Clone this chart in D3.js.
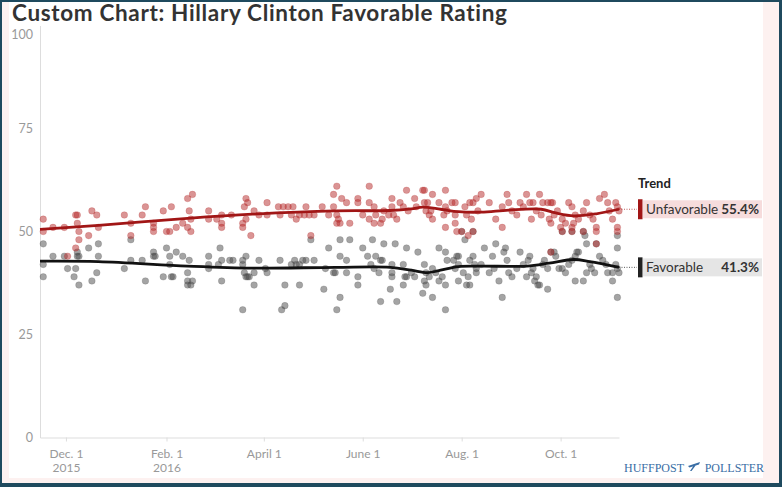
<!DOCTYPE html>
<html>
<head>
<meta charset="utf-8">
<script src="https://cdn.jsdelivr.net/npm/d3@7"></script>
<style>
  body { margin: 0; background: #fff; }
  svg { display: block; font-family: Lato, "Open Sans", sans-serif; }
</style>
</head>
<body>
<div id="chart"></div>
<script>
'use strict';

var parseDate = d3.timeParse('%Y-%m-%d');

var chartTitle = 'Custom Chart: Hillary Clinton Favorable Rating';
var seriesNames = ['Unfavorable', 'Favorable'];
var latestTrend = [55.4, 41.3];
var dateRange = ['2015-11-15', '2016-11-06'];

var yTicks = [0, 25, 50, 75, 100];
var tickDates = ['2015-12-01', '2016-02-01', '2016-04-01', '2016-06-01', '2016-08-01', '2016-10-01'];
var tickLabels = [['Dec. 1', '2015'], ['Feb. 1', '2016'], ['April 1'], ['June 1'], ['Aug. 1'], ['Oct. 1']];

// individual polls
var unfavorablePolls = [
  ['2015-11-17', 53], ['2015-11-17', 50], ['2015-11-23', 51], ['2015-11-30', 51], ['2015-12-02', 44],
  ['2015-12-07', 54], ['2015-12-08', 54], ['2015-12-07', 46], ['2015-12-08', 52], ['2015-12-09', 50],
  ['2015-12-09', 48], ['2015-12-15', 49], ['2015-12-17', 55], ['2015-12-20', 54], ['2015-12-21', 51],
  ['2016-01-06', 54], ['2016-01-10', 52], ['2016-01-10', 49], ['2016-01-17', 54], ['2016-01-19', 56],
  ['2016-01-24', 52], ['2016-01-24', 51], ['2016-01-24', 50], ['2016-01-30', 55], ['2016-02-01', 50],
  ['2016-02-03', 50], ['2016-02-04', 56], ['2016-02-07', 51], ['2016-02-11', 52], ['2016-02-14', 58],
  ['2016-02-14', 51], ['2016-02-17', 59], ['2016-02-15', 55], ['2016-02-16', 53], ['2016-02-16', 50],
  ['2016-02-27', 55], ['2016-02-27', 53], ['2016-03-03', 53], ['2016-03-06', 54], ['2016-03-06', 52],
  ['2016-03-06', 51], ['2016-03-12', 54], ['2016-03-20', 56], ['2016-03-21', 58], ['2016-03-22', 57],
  ['2016-03-19', 52], ['2016-03-19', 51], ['2016-03-21', 53], ['2016-03-26', 55], ['2016-03-29', 54],
  ['2016-03-24', 49], ['2016-04-03', 57], ['2016-04-03', 54], ['2016-04-10', 56], ['2016-04-13', 56],
  ['2016-04-16', 56], ['2016-04-19', 56], ['2016-04-11', 54], ['2016-04-18', 54], ['2016-04-23', 54],
  ['2016-04-21', 53], ['2016-04-27', 56], ['2016-04-26', 54], ['2016-04-29', 54], ['2016-05-02', 54],
  ['2016-04-30', 49], ['2016-05-07', 56], ['2016-05-11', 54], ['2016-05-14', 59], ['2016-05-14', 56],
  ['2016-05-16', 54], ['2016-05-17', 53], ['2016-05-18', 52], ['2016-05-16', 52], ['2016-06-05', 61],
  ['2016-05-16', 61], ['2016-05-19', 58], ['2016-05-22', 57], ['2016-05-24', 52], ['2016-05-29', 58],
  ['2016-05-29', 57], ['2016-06-01', 54], ['2016-06-05', 57], ['2016-06-08', 56], ['2016-06-09', 54],
  ['2016-06-05', 53], ['2016-06-08', 52], ['2016-06-12', 52], ['2016-06-13', 53], ['2016-06-14', 55],
  ['2016-06-17', 54], ['2016-06-19', 56], ['2016-06-19', 58], ['2016-06-20', 54], ['2016-06-22', 53],
  ['2016-06-24', 57], ['2016-06-26', 56], ['2016-06-28', 60], ['2016-06-29', 55], ['2016-07-03', 58],
  ['2016-07-04', 56], ['2016-07-08', 60], ['2016-07-09', 60], ['2016-07-09', 57], ['2016-07-11', 57],
  ['2016-07-10', 55], ['2016-07-12', 54], ['2016-07-14', 53], ['2016-07-14', 59], ['2016-07-13', 55],
  ['2016-07-18', 57], ['2016-07-22', 60], ['2016-07-22', 56], ['2016-07-23', 55], ['2016-07-21', 54],
  ['2016-07-22', 51], ['2016-07-26', 57], ['2016-07-28', 57], ['2016-07-28', 54], ['2016-07-28', 52],
  ['2016-07-29', 50], ['2016-08-01', 50], ['2016-08-05', 49], ['2016-08-03', 56], ['2016-08-06', 57],
  ['2016-08-08', 57], ['2016-08-04', 54], ['2016-08-07', 53], ['2016-08-10', 58], ['2016-08-11', 55],
  ['2016-08-08', 50], ['2016-08-13', 59], ['2016-08-18', 57], ['2016-08-22', 53], ['2016-08-26', 56],
  ['2016-08-26', 51], ['2016-08-29', 59], ['2016-08-30', 57], ['2016-09-01', 55], ['2016-09-04', 54],
  ['2016-09-06', 57], ['2016-09-08', 56], ['2016-09-10', 59], ['2016-09-12', 57], ['2016-09-14', 57],
  ['2016-09-18', 59], ['2016-09-20', 57], ['2016-09-13', 53], ['2016-09-16', 55], ['2016-09-19', 54],
  ['2016-09-23', 57], ['2016-09-25', 57], ['2016-09-26', 57], ['2016-09-24', 53], ['2016-09-25', 52],
  ['2016-09-27', 54], ['2016-09-29', 55], ['2016-10-02', 53], ['2016-10-04', 52], ['2016-10-01', 51],
  ['2016-10-08', 51], ['2016-10-09', 52], ['2016-10-06', 57], ['2016-10-08', 56], ['2016-10-10', 54],
  ['2016-10-12', 53], ['2016-10-15', 55], ['2016-10-17', 57], ['2016-10-19', 54], ['2016-10-21', 53],
  ['2016-10-23', 51], ['2016-10-25', 58], ['2016-10-28', 59], ['2016-10-30', 57], ['2016-10-31', 55],
  ['2016-11-02', 53], ['2016-11-04', 57], ['2016-11-05', 56], ['2016-11-06', 55], ['2016-11-05', 51],
  ['2016-11-05', 50], ['2016-10-23', 50], ['2016-10-02', 50], ['2016-10-08', 50], ['2016-10-15', 50],
  ['2016-09-25', 45], ['2016-10-23', 47]
];

var favorablePolls = [
  ['2015-11-17', 47], ['2015-11-17', 42], ['2015-11-17', 39], ['2015-11-23', 44], ['2015-11-30', 44],
  ['2015-12-02', 41], ['2015-12-07', 41], ['2015-12-06', 39], ['2015-12-09', 37], ['2015-12-08', 45],
  ['2015-12-08', 44], ['2015-12-09', 44], ['2015-12-15', 46], ['2015-12-17', 38], ['2015-12-20', 40],
  ['2015-12-21', 47], ['2015-12-21', 44], ['2016-01-06', 41], ['2016-01-10', 43], ['2016-01-10', 48],
  ['2016-01-17', 43], ['2016-01-19', 38], ['2016-01-24', 45], ['2016-01-24', 44], ['2016-01-25', 44],
  ['2016-01-30', 39], ['2016-02-01', 46], ['2016-02-04', 39], ['2016-02-05', 39], ['2016-02-03', 44],
  ['2016-02-03', 42], ['2016-02-07', 45], ['2016-02-11', 44], ['2016-02-14', 40], ['2016-02-14', 38],
  ['2016-02-14', 37], ['2016-02-15', 43], ['2016-02-16', 37], ['2016-02-17', 38], ['2016-02-27', 44],
  ['2016-02-27', 42], ['2016-02-27', 41], ['2016-03-05', 46], ['2016-03-04', 42], ['2016-03-06', 43],
  ['2016-03-06', 38], ['2016-03-11', 43], ['2016-03-13', 43], ['2016-03-19', 43], ['2016-03-21', 44],
  ['2016-03-19', 42], ['2016-03-20', 40], ['2016-03-21', 39], ['2016-03-22', 39], ['2016-03-23', 39],
  ['2016-03-26', 40], ['2016-03-26', 37], ['2016-03-29', 43], ['2016-04-03', 40], ['2016-04-02', 41],
  ['2016-03-19', 31], ['2016-04-11', 43], ['2016-04-12', 31], ['2016-04-14', 32], ['2016-04-14', 37],
  ['2016-04-18', 42], ['2016-04-20', 43], ['2016-04-21', 42], ['2016-04-23', 42], ['2016-04-25', 43],
  ['2016-04-27', 43], ['2016-05-02', 43], ['2016-04-30', 48], ['2016-04-23', 37], ['2016-05-08', 36],
  ['2016-05-11', 46], ['2016-05-09', 41], ['2016-05-14', 40], ['2016-05-18', 48], ['2016-05-24', 48],
  ['2016-05-18', 44], ['2016-05-15', 40], ['2016-05-22', 40], ['2016-05-22', 43], ['2016-05-18', 34],
  ['2016-05-16', 31], ['2016-06-01', 46], ['2016-05-29', 39], ['2016-05-29', 37], ['2016-06-04', 44],
  ['2016-06-06', 42], ['2016-06-08', 41], ['2016-06-07', 48], ['2016-06-09', 44], ['2016-06-12', 43],
  ['2016-06-13', 43], ['2016-06-14', 47], ['2016-06-11', 40], ['2016-06-19', 42], ['2016-06-19', 40],
  ['2016-06-19', 39], ['2016-06-18', 36], ['2016-06-12', 33], ['2016-06-22', 33], ['2016-06-21', 47],
  ['2016-06-26', 42], ['2016-06-28', 46], ['2016-06-27', 39], ['2016-06-28', 39], ['2016-06-26', 37],
  ['2016-07-01', 40], ['2016-07-05', 45], ['2016-07-03', 39], ['2016-07-08', 35], ['2016-07-09', 42],
  ['2016-07-10', 40], ['2016-07-09', 38], ['2016-07-10', 37], ['2016-07-12', 39], ['2016-07-14', 34],
  ['2016-07-14', 41], ['2016-07-16', 40], ['2016-07-18', 38], ['2016-07-20', 39], ['2016-07-18', 46],
  ['2016-07-22', 45], ['2016-07-23', 43], ['2016-07-22', 31], ['2016-07-22', 37], ['2016-07-27', 43],
  ['2016-07-29', 44], ['2016-07-30', 44], ['2016-07-28', 41], ['2016-07-30', 42], ['2016-08-02', 40],
  ['2016-08-03', 48], ['2016-08-04', 37], ['2016-08-06', 37], ['2016-07-30', 38], ['2016-08-06', 43],
  ['2016-08-08', 44], ['2016-08-05', 39], ['2016-08-10', 41], ['2016-08-10', 40], ['2016-08-01', 50],
  ['2016-08-08', 50], ['2016-08-09', 42], ['2016-08-13', 42], ['2016-08-15', 46], ['2016-08-22', 47],
  ['2016-08-20', 44], ['2016-08-27', 45], ['2016-08-28', 46], ['2016-08-18', 40], ['2016-08-21', 41],
  ['2016-08-24', 38], ['2016-08-26', 34], ['2016-08-29', 43], ['2016-08-30', 40], ['2016-09-01', 39],
  ['2016-09-04', 41], ['2016-09-06', 45], ['2016-09-08', 42], ['2016-09-10', 39], ['2016-09-11', 43],
  ['2016-09-12', 44], ['2016-09-13', 40], ['2016-09-14', 41], ['2016-09-16', 39], ['2016-09-17', 37],
  ['2016-09-18', 37], ['2016-09-15', 38], ['2016-09-20', 42], ['2016-09-21', 43], ['2016-09-23', 36],
  ['2016-09-23', 41], ['2016-09-25', 45], ['2016-09-27', 45], ['2016-09-28', 44], ['2016-09-30', 41],
  ['2016-10-02', 41], ['2016-10-04', 40], ['2016-10-06', 42], ['2016-10-08', 43], ['2016-10-10', 44],
  ['2016-10-11', 45], ['2016-10-12', 45], ['2016-10-15', 38], ['2016-10-10', 38], ['2016-10-17', 40],
  ['2016-10-17', 47], ['2016-10-16', 49], ['2016-10-23', 47], ['2016-10-19', 42], ['2016-10-20', 41],
  ['2016-10-22', 40], ['2016-10-25', 44], ['2016-10-27', 43], ['2016-10-29', 42], ['2016-10-30', 40],
  ['2016-11-02', 40], ['2016-11-02', 38], ['2016-11-04', 42], ['2016-11-05', 41], ['2016-11-06', 40],
  ['2016-11-05', 49], ['2016-11-05', 46], ['2016-11-05', 34], ['2016-10-02', 50], ['2016-10-08', 50],
  ['2016-10-15', 50]
];

// smoothed trend estimates
var unfavorableTrend = [
  ['2015-11-15', 50.5], ['2015-12-21', 51.5], ['2016-02-14', 53.2], ['2016-03-25', 54.2],
  ['2016-05-15', 55.0], ['2016-06-18', 55.1], ['2016-07-01', 55.5], ['2016-07-08', 55.9],
  ['2016-07-19', 55.4], ['2016-07-30', 54.8], ['2016-08-13', 54.7], ['2016-08-30', 55.2],
  ['2016-09-19', 55.4], ['2016-09-28', 54.5], ['2016-10-09', 53.8], ['2016-10-23', 54.3],
  ['2016-11-06', 55.4]
];
var favorableTrend = [
  ['2015-11-15', 42.8], ['2015-12-21', 42.7], ['2016-02-14', 41.6], ['2016-03-25', 41.1],
  ['2016-05-15', 41.3], ['2016-06-18', 41.3], ['2016-07-01', 40.6], ['2016-07-11', 40.0],
  ['2016-07-19', 40.6], ['2016-07-30', 41.5], ['2016-08-13', 41.6], ['2016-09-10', 41.6],
  ['2016-09-24', 42.3], ['2016-10-09', 43.2], ['2016-10-19', 42.7], ['2016-11-06', 41.3]
];

var width = 782, height = 487;
var plot = {left: 40, right: 619, top: 25.5, bottom: 437.5};

var series = [
  {name: seriesNames[0], polls: unfavorablePolls, trend: unfavorableTrend, latest: latestTrend[0],
    dot: '#b52a2a', line: '#a11616', box: '#f6dcdc', bar: '#a11616'},
  {name: seriesNames[1], polls: favorablePolls, trend: favorableTrend, latest: latestTrend[1],
    dot: '#4a4a4a', line: '#111', box: '#e5e5e5', bar: '#222'}
];

var x = d3.scaleTime()
  .domain(dateRange.map(parseDate))
  .range([plot.left, plot.right]);

var y = d3.scaleLinear()
  .domain([0, 100])
  .range([plot.bottom, plot.top]);

var svg = d3.select('#chart').append('svg')
  .attr('width', width)
  .attr('height', height);

// frame: dark border, pink matte, white panel
svg.append('rect').attr('width', width).attr('height', height).attr('fill', '#1f4a5e');
svg.append('rect').attr('x', 2).attr('y', 2).attr('width', width - 5).attr('height', height - 6)
  .attr('fill', '#fdf1f0');
svg.append('rect').attr('x', 9).attr('y', 2).attr('width', 754).attr('height', 476)
  .attr('fill', '#fff');

// title, spaced out to the width it has in the original
var title = svg.append('text')
  .attr('x', 12)
  .attr('y', 21)
  .attr('font-size', 22.5)
  .attr('font-weight', 700)
  .attr('fill', '#333')
  .text(chartTitle);
var titleLen = title.node().getComputedTextLength();
title.attr('letter-spacing', Math.max(0, (496 - titleLen) / chartTitle.length));

// y axis
var yAxis = svg.append('g')
  .attr('transform', 'translate(' + plot.left + ',0)')
  .call(d3.axisLeft(y).tickValues(yTicks).tickSize(0).tickPadding(7));
yAxis.select('.domain').attr('stroke', '#ddd');
yAxis.selectAll('text')
  .attr('fill', '#999')
  .attr('font-size', 12.5)
  .attr('font-family', 'Lato, sans-serif')
  .attr('transform', function (d) { return d === 100 ? 'translate(0,9)' : null; });

// x axis
var xAxis = svg.append('g')
  .attr('transform', 'translate(0,' + plot.bottom + ')')
  .call(d3.axisBottom(x)
    .tickValues(tickDates.map(parseDate))
    .tickSize(4)
    .tickSizeOuter(0)
    .tickFormat(''));
xAxis.select('.domain').attr('stroke', '#ddd');
xAxis.selectAll('.tick line').attr('stroke', '#ddd');
xAxis.selectAll('.tick text').remove();
xAxis.selectAll('.tick').each(function (d, i) {
  var tick = d3.select(this);
  tickLabels[i].forEach(function (label, k) {
    tick.append('text')
      .attr('y', 20 + k * 14.5)
      .attr('fill', '#999')
      .attr('font-size', 12)
      .attr('font-family', 'Lato, sans-serif')
      .attr('text-anchor', 'middle')
      .text(label);
  });
});

// poll dots: favorable underneath, unfavorable on top
var dots = svg.append('g').attr('class', 'dots');
series.slice().reverse().forEach(function (s) {
  dots.append('g')
    .selectAll('circle')
    .data(s.polls)
    .enter().append('circle')
    .attr('cx', function (d) { return x(parseDate(d[0])); })
    .attr('cy', function (d) { return y(d[1]); })
    .attr('r', 3.3)
    .attr('fill', s.dot)
    .attr('fill-opacity', 0.5)
    .attr('stroke', s.dot)
    .attr('stroke-opacity', 0.25)
    .attr('stroke-width', 0.8);
});

// trend lines
var line = d3.line()
  .x(function (d) { return x(parseDate(d[0])); })
  .y(function (d) { return y(d[1]); })
  .curve(d3.curveCatmullRom.alpha(0.5));

series.forEach(function (s) {
  svg.append('path')
    .datum(s.trend)
    .attr('d', line)
    .attr('fill', 'none')
    .attr('stroke', s.line)
    .attr('stroke-width', 2.8)
    .attr('stroke-linejoin', 'round');
});

// legend
var legend = svg.append('g').attr('class', 'legend');
legend.append('text')
  .attr('x', 638)
  .attr('y', 188)
  .attr('font-size', 13)
  .attr('font-weight', 700)
  .attr('fill', '#222')
  .text('Trend');

series.forEach(function (s) {
  var cy = y(s.latest);
  var g = legend.append('g');
  g.append('line')
    .attr('x1', plot.right).attr('x2', 637)
    .attr('y1', cy).attr('y2', cy)
    .attr('stroke', s.line)
    .attr('stroke-opacity', 0.7)
    .attr('stroke-dasharray', '1,1.5');
  g.append('rect')
    .attr('x', 643).attr('y', cy - 9)
    .attr('width', 119).attr('height', 18)
    .attr('fill', s.box);
  g.append('rect')
    .attr('x', 638).attr('y', cy - 10)
    .attr('width', 4.5).attr('height', 20)
    .attr('fill', s.bar);
  g.append('text')
    .attr('x', 646).attr('y', cy + 4.5)
    .attr('font-size', 13.5)
    .attr('fill', '#333')
    .text(s.name);
  g.append('text')
    .attr('x', 759).attr('y', cy + 4.5)
    .attr('text-anchor', 'end')
    .attr('font-size', 13.5)
    .attr('font-weight', 700)
    .attr('fill', '#333')
    .text(s.latest.toFixed(1) + '%');
});

// logo
var logo = svg.append('g')
  .attr('fill', '#3a6ea5')
  .attr('font-family', '"Liberation Serif", "DejaVu Serif", serif')
  .attr('font-size', 12);
logo.append('text').attr('x', 624).attr('y', 472).text('HUFFPOST');
logo.append('text').attr('x', 764).attr('y', 472).attr('text-anchor', 'end').text('POLLSTER');
logo.append('path')
  .attr('d', 'M688,466 L700,462 L699,464.5 L689.5,467.5 Z M694,465 L696,465 L691.5,471 L690,471 Z')
  .attr('fill', '#3a6ea5');
</script>
</body>
</html>
